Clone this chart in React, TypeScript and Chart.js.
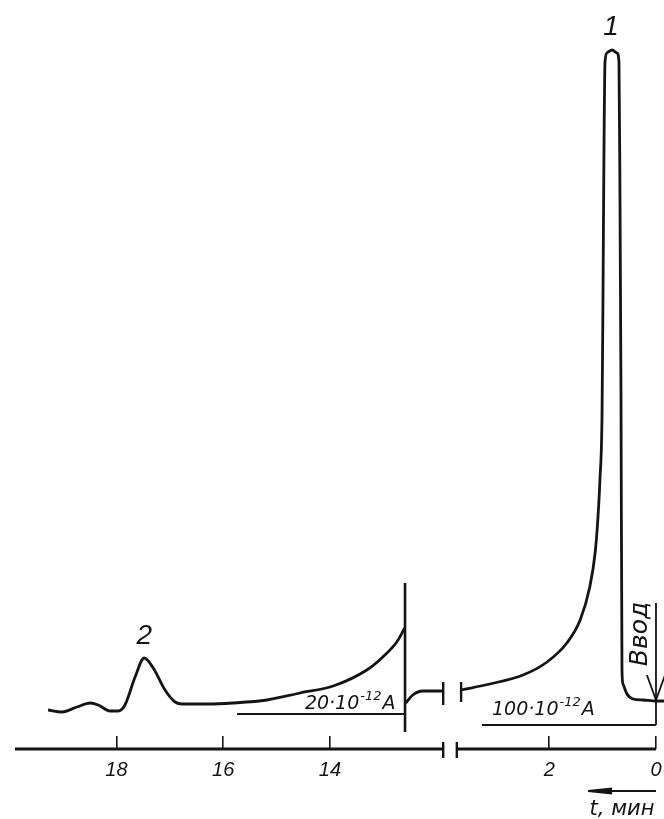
import { useEffect, useRef } from 'react';
import { Chart, registerables } from 'chart.js';

Chart.register(...registerables);

// ---- data (time in minutes, signal in recorder units) ----
// the time axis is broken: everything later than BREAK_AT is drawn shifted left by BREAK_SHIFT minutes
const BREAK_SHIFT = 7.895;
const BREAK_AT = 8;

const TICK_TIMES = [0, 2, 14, 16, 18];
const TICK_LABELS = ['0', '2', '14', '16', '18'];

// late part of the trace, range 20·10⁻¹² A (peak 2)
const TRACE_LATE_T = [19.28, 19.02, 18.74, 18.49, 18.34, 18.12, 17.97, 17.84, 17.65, 17.48, 17.31, 17.09, 16.9, 16.77, 16.29, 15.82, 15.18, 14.56, 13.94, 13.31, 13.01, 12.75, 12.6];
const TRACE_LATE_Y = [39, 37, 42, 46, 44, 38, 38, 44, 72, 91, 81, 59, 47, 45, 45, 46, 49, 56, 63, 79, 92, 107, 121];

// trace right after the range switch
const TRACE_SWITCHED_T = [12.58, 12.45, 12.26, 12.05, 11.88];
const TRACE_SWITCHED_Y = [46, 54, 58, 58, 58];

// early part of the trace, range 100·10⁻¹² A (peak 1)
const TRACE_EARLY_T = [3.65, 3.11, 2.49, 2.04, 1.67, 1.42, 1.24, 1.14, 1.09, 1.05, 1.01, 0.993, 0.974, 0.955, 0.918, 0.824, 0.73, 0.693, 0.674, 0.655, 0.637, 0.618, 0.543, 0.431, 0.243, 0.0, -0.15];
const TRACE_EARLY_Y = [59, 65, 74, 87, 106, 129, 162, 196, 229, 269, 336, 449, 599, 687, 696, 699, 696, 687, 549, 349, 79, 65, 55, 50, 49, 48, 48];

// time axis pieces
const AXIS_LATE_T = [19.9, 11.88];
const AXIS_EARLY_T = [3.73, 0];
const AXIS_BREAK_Y = [-9, 7];
const TRACE_BREAK_LATE_T = 11.88;
const TRACE_BREAK_LATE_Y = [44, 67];
const TRACE_BREAK_EARLY_T = 3.65;
const TRACE_BREAK_EARLY_Y = [47, 67];

// range switch line and range bars
const SWITCH_T = 12.595;
const SWITCH_Y = [166, 17];
const RANGE20_T = [15.74, 12.6];
const RANGE20_Y = 35;
const RANGE100_T = [3.26, 0];
const RANGE100_Y = 24;

// injection arrow ("Ввод")
const INJECT_T = 0;
const INJECT_Y = [146, 24];
const INJECT_HEAD_T = [0.17, 0, -0.17];
const INJECT_HEAD_Y = [74, 49, 74];

// time direction arrow
const TIME_ARROW_T = [0, 1.27];
const TIME_ARROW_Y = -42;
const TIME_HEAD_T = [1.27, 0.84, 0.84, 1.27];
const TIME_HEAD_Y = [-42, -39.5, -44.5, -42];

const INK = '#141414';

const ax = (t: number) => (t > BREAK_AT ? t - BREAK_SHIFT : t);

function seg(ts: number[], ys: number[], width: number, extra: Record<string, unknown> = {}) {
  return {
    data: ts.map((t, i) => ({ x: ax(t), y: ys[i] })),
    borderColor: INK,
    backgroundColor: INK,
    borderWidth: width,
    pointRadius: 0,
    fill: false,
    tension: 0,
    ...extra,
  };
}

const labelsPlugin = {
  id: 'labels',
  afterDatasetsDraw(chart: any) {
    const { ctx, scales } = chart;
    const X = (t: number) => scales.x.getPixelForValue(ax(t));
    const Y = (v: number) => scales.y.getPixelForValue(v);
    ctx.save();
    ctx.fillStyle = INK;
    ctx.textBaseline = 'middle';

    // peak numbers
    ctx.font = 'italic 28px "Liberation Sans"';
    ctx.textAlign = 'center';
    ctx.fillText('1', X(0.843), Y(722));
    ctx.fillText('2', X(17.48), Y(113));

    // current ranges
    const rangeLabel = (t: number, v: number, main: string) => {
      let x = X(t);
      const y = Y(v);
      ctx.textAlign = 'left';
      ctx.font = 'italic 19px "DejaVu Sans"';
      ctx.fillText(main, x, y);
      x += ctx.measureText(main).width + 1;
      ctx.font = 'italic 13px "DejaVu Sans"';
      ctx.fillText('-12', x, y - 7);
      x += ctx.measureText('-12').width + 1;
      ctx.font = 'italic 19px "DejaVu Sans"';
      ctx.fillText('A', x, y);
    };
    rangeLabel(14.47, 45, '20·10');
    rangeLabel(3.071, 39, '100·10');

    // injection
    ctx.save();
    ctx.translate(X(0.281), Y(115));
    ctx.rotate(-Math.PI / 2);
    ctx.textAlign = 'center';
    ctx.font = 'italic 25px "DejaVu Sans"';
    ctx.fillText('Ввод', 0, 0);
    ctx.restore();

    // time unit
    ctx.textAlign = 'center';
    ctx.font = 'italic 21px "DejaVu Sans"';
    ctx.fillText('t, мин', X(0.637), Y(-61));
    ctx.restore();
  },
};

export default function App() {
  const ref = useRef<HTMLCanvasElement | null>(null);

  useEffect(() => {
    if (!ref.current) return;
    const smooth = { cubicInterpolationMode: 'monotone' };
    const chart = new Chart(ref.current, {
      type: 'line',
      data: {
        datasets: [
          seg(TRACE_LATE_T, TRACE_LATE_Y, 2.8, smooth),
          seg(TRACE_SWITCHED_T, TRACE_SWITCHED_Y, 2.8, smooth),
          seg(TRACE_EARLY_T, TRACE_EARLY_Y, 2.8, smooth),
          seg(AXIS_LATE_T, [0, 0], 3),
          seg(AXIS_EARLY_T, [0, 0], 3),
          seg([AXIS_LATE_T[1], AXIS_LATE_T[1]], AXIS_BREAK_Y, 2.4),
          seg([AXIS_EARLY_T[0], AXIS_EARLY_T[0]], AXIS_BREAK_Y, 2.4),
          seg([TRACE_BREAK_LATE_T, TRACE_BREAK_LATE_T], TRACE_BREAK_LATE_Y, 2.4),
          seg([TRACE_BREAK_EARLY_T, TRACE_BREAK_EARLY_T], TRACE_BREAK_EARLY_Y, 2.4),
          seg([SWITCH_T, SWITCH_T], SWITCH_Y, 2.6),
          seg(RANGE20_T, [RANGE20_Y, RANGE20_Y], 2),
          seg(RANGE100_T, [RANGE100_Y, RANGE100_Y], 2),
          seg([INJECT_T, INJECT_T], INJECT_Y, 1.8),
          seg(INJECT_HEAD_T, INJECT_HEAD_Y, 1.8),
          seg(TIME_ARROW_T, [TIME_ARROW_Y, TIME_ARROW_Y], 2.2),
          seg(TIME_HEAD_T, TIME_HEAD_Y, 2, { fill: 'shape' }),
        ] as any,
      },
      options: {
        animation: false,
        responsive: false,
        events: [],
        layout: { padding: 0 },
        plugins: { legend: { display: false }, tooltip: { enabled: false } },
        scales: {
          x: {
            type: 'linear',
            reverse: true,
            min: -0.15,
            max: 12.285,
            position: { y: 0 } as any,
            border: { display: false },
            grid: {
              display: true,
              drawOnChartArea: false,
              drawTicks: true,
              tickLength: -13,
              lineWidth: 1.6,
              color: INK,
            },
            ticks: {
              autoSkip: false,
              maxRotation: 0,
              padding: 22,
              color: INK,
              font: { family: '"Liberation Sans"', style: 'italic', size: 20 },
              callback: (_v: any, i: number) => TICK_LABELS[i],
            },
            afterBuildTicks: (scale: any) => {
              scale.ticks = TICK_TIMES.map((t) => ({ value: ax(t) }));
            },
          },
          y: { type: 'linear', display: false, min: -70, max: 749 },
        },
      } as any,
      plugins: [labelsPlugin],
    });
    return () => chart.destroy();
  }, []);

  return (
    <div style={{ position: 'fixed', left: 0, top: 0, width: 664, height: 819, background: '#fff' }}>
      <canvas ref={ref} width={664} height={819} style={{ display: 'block' }} />
    </div>
  );
}
